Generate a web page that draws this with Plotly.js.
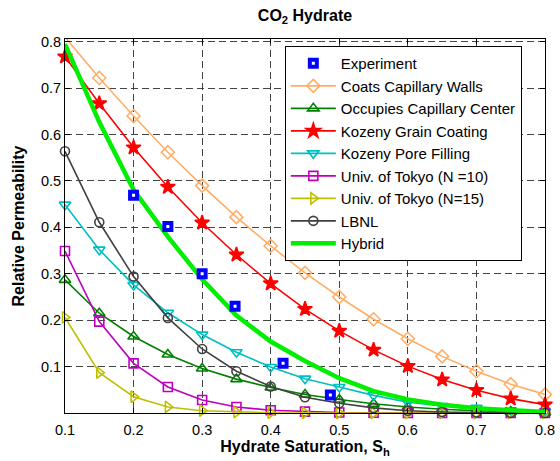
<!DOCTYPE html>
<html>
<head>
<meta charset="utf-8">
<script src="https://cdn.plot.ly/plotly-3.0.1.min.js"></script>
<style>html,body{margin:0;padding:0;background:#fff;}#chart{width:560px;height:461px;}</style>
</head>
<body>
<div id="chart"></div>
<script>
// Hydrate saturation values (x)
var saturation = [0.1, 0.15, 0.2, 0.25, 0.3, 0.35, 0.4, 0.45, 0.5, 0.55, 0.6, 0.65, 0.7, 0.75, 0.8];

// Relative permeability series
var coatsWalls    = [0.81, 0.722, 0.64, 0.562, 0.49, 0.422, 0.36, 0.302, 0.25, 0.202, 0.16, 0.122, 0.09, 0.062, 0.04];
var capCenter     = [0.287, 0.215, 0.165, 0.126, 0.096, 0.073, 0.055, 0.040, 0.029, 0.020, 0.013, 0.008, 0.005, 0.003, 0.001];
var kozenyGrain   = [0.768, 0.667, 0.572, 0.487, 0.41, 0.341, 0.279, 0.224, 0.177, 0.136, 0.101, 0.072, 0.049, 0.031, 0.018];
var kozenyPore    = [0.449, 0.352, 0.276, 0.216, 0.169, 0.131, 0.099, 0.074, 0.056, 0.038, 0.023, 0.015, 0.011, 0.006, 0.003];
var tokyoN10      = [0.349, 0.197, 0.107, 0.056, 0.028, 0.013, 0.006, 0.003, 0.001, 0.0004, 0.0001, 0, 0, 0, 0];
var tokyoN15      = [0.206, 0.087, 0.035, 0.013, 0.005, 0.002, 0.0005, 0.0001, 0, 0, 0, 0, 0, 0, 0];
var lbnl          = [0.564, 0.411, 0.294, 0.205, 0.138, 0.090, 0.057, 0.034, 0.021, 0.011, 0.005, 0.002, 0.001, 0.0003, 0];
var hybrid        = [0.795, 0.627, 0.481, 0.380, 0.288, 0.210, 0.154, 0.112, 0.075, 0.047, 0.029, 0.018, 0.010, 0.005, 0.002];

// Experimental points
var expSaturation = [0.2, 0.25, 0.3, 0.348, 0.418, 0.487];
var expPerm       = [0.469, 0.402, 0.300, 0.230, 0.107, 0.039];

// Labels
var seriesNames = ['Experiment', 'Coats Capillary Walls', 'Occupies Capillary Center', 'Kozeny Grain Coating',
                   'Kozeny Pore Filling', 'Univ. of Tokyo (N =10)', 'Univ. of Tokyo (N=15)', 'LBNL', 'Hybrid'];
var tickVals = [0.1, 0.2, 0.3, 0.4, 0.5, 0.6, 0.7, 0.8];
var tickText = ['0.1', '0.2', '0.3', '0.4', '0.5', '0.6', '0.7', '0.8'];

function lineTrace(y, name, rank, color, symbol, size) {
  return {
    x: saturation, y: y, name: name, type: 'scatter', mode: 'lines+markers',
    legendrank: rank, cliponaxis: false,
    line: {color: color, width: 1.6},
    marker: {symbol: symbol, size: size, color: color, line: {color: color, width: 1.6}}
  };
}

var traces = [
  lineTrace(coatsWalls, seriesNames[1], 2, '#ffae66', 'diamond-open', 10),
  lineTrace(capCenter, seriesNames[2], 3, '#008000', 'triangle-up-open', 10),
  lineTrace(kozenyGrain, seriesNames[3], 4, '#ff0000', 'star', 11),
  lineTrace(kozenyPore, seriesNames[4], 5, '#00bfbf', 'triangle-down-open', 10),
  lineTrace(tokyoN10, seriesNames[5], 6, '#bf00bf', 'square-open', 9),
  lineTrace(tokyoN15, seriesNames[6], 7, '#bfbf00', 'triangle-right-open', 10),
  lineTrace(lbnl, seriesNames[7], 8, '#404040', 'circle-open', 9),
  {x: saturation, y: hybrid, name: seriesNames[8], type: 'scatter', mode: 'lines', legendrank: 9,
   line: {color: '#00ee00', width: 4.5}},
  {x: expSaturation, y: expPerm, name: seriesNames[0], type: 'scatter', mode: 'markers', legendrank: 1,
   cliponaxis: false,
   marker: {symbol: 'square', size: 7, color: '#ffffff', line: {color: '#0000ff', width: 4}}}
];

var fontFam = 'Liberation Sans, Arial, Helvetica, sans-serif';
var axisCommon = {
  showline: true, mirror: 'ticks', linecolor: '#000', linewidth: 1,
  ticks: 'inside', ticklen: 5, tickcolor: '#000', tickwidth: 1,
  showgrid: true, gridcolor: '#444', gridwidth: 1, griddash: '7px,4px',
  zeroline: false, tickfont: {family: fontFam, size: 14.5, color: '#000'},
  tickvals: tickVals, ticktext: tickText
};

var layout = {
  width: 560, height: 461,
  margin: {l: 65, r: 15, t: 39, b: 48},
  paper_bgcolor: '#fff', plot_bgcolor: '#fff',
  font: {family: fontFam, color: '#000'},
  title: {text: 'CO<sub>2</sub> Hydrate', font: {family: fontFam, size: 16, weight: 'bold', color: '#000'},
          x: 0.5, xref: 'paper', xanchor: 'center', y: 1 - 15.5/461, yref: 'container', yanchor: 'middle'},
  xaxis: Object.assign({}, axisCommon, {
    range: [0.1, 0.8], ticklabelstandoff: 4,
    title: {text: 'Hydrate Saturation, S<sub>h</sub>', font: {family: fontFam, size: 16, weight: 'bold'}, standoff: 3}
  }),
  yaxis: Object.assign({}, axisCommon, {
    range: [0, 0.806],
    title: {text: 'Relative Permeability', font: {family: fontFam, size: 16, weight: 'bold'}, standoff: 12}
  }),
  showlegend: true,
  legend: {
    x: 0.458, y: 0.981, xanchor: 'left', yanchor: 'top',
    bgcolor: '#fff', bordercolor: '#000', borderwidth: 1,
    font: {family: fontFam, size: 15, color: '#000'},
    itemwidth: 45, traceorder: 'normal'
  }
};

Plotly.newPlot('chart', traces, layout, {displayModeBar: false, staticPlot: true});
</script>
</body>
</html>
